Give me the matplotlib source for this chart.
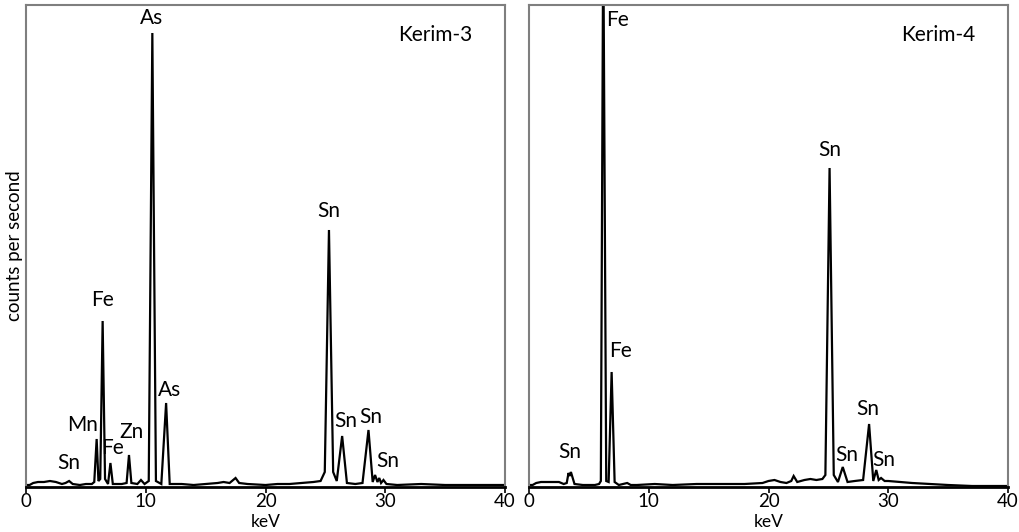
import matplotlib.pyplot as plt

plt.rcParams['font.family'] = ['Lato', 'DejaVu Sans']

# ------------------------------------------------------
# Spectra (keV, counts, arbitrary units)
# ------------------------------------------------------
k3_kev = [0.0, 0.3, 0.6, 1.0, 1.5, 2.0, 2.5, 3.0, 3.3, 3.6, 3.9, 4.5, 5.0,
          5.5, 5.7, 5.9, 6.05, 6.2, 6.4, 6.6, 6.85, 7.05, 7.25, 8.0, 8.4,
          8.6, 8.8, 9.3, 9.6, 9.9, 10.25, 10.55, 10.85, 11.3, 11.7, 12.0,
          13.0, 14.0, 15.0, 16.0, 16.5, 17.0, 17.5, 17.8, 18.5, 20.0, 21.0,
          22.0, 23.0, 24.0, 24.6, 24.95, 25.3, 25.65, 25.95, 26.4, 26.8,
          27.5, 28.1, 28.6, 28.95, 29.15, 29.35, 29.5, 29.65, 29.85, 30.1,
          31.0, 33.0, 35.0, 40.0]
k3_cps = [2, 2, 4, 5, 5, 6, 5, 3, 4, 6, 3, 2, 3,
          3, 5, 48, 6, 8, 166, 8, 3, 24, 3, 3, 4,
          32, 4, 3, 7, 3, 6, 454, 6, 3, 84, 3,
          3, 2, 3, 4, 5, 4, 9, 4, 3, 2, 3,
          3, 4, 5, 6, 15, 257, 15, 6, 51, 4,
          3, 4, 57, 5, 12, 5, 9, 4, 7, 3,
          2, 3, 2, 2]

k4_kev = [0.0, 0.3, 0.6, 1.0, 1.5, 2.0, 2.5, 2.9, 3.15, 3.3, 3.4, 3.5, 3.8,
          4.5, 5.5, 5.85, 6.0, 6.2, 6.45, 6.65, 6.9, 7.15, 7.5, 8.2, 8.5,
          9.0, 10.5, 12.0, 14.0, 16.0, 18.0, 19.5, 20.0, 20.5, 21.0, 21.5,
          21.9, 22.1, 22.4, 23.0, 23.5, 24.0, 24.5, 24.75, 25.1, 25.45,
          25.8, 26.2, 26.6, 27.2, 27.9, 28.4, 28.75, 29.0, 29.2, 29.4,
          29.7, 30.0, 31.0, 32.0, 33.5, 35.0, 37.0, 40.0]
k4_cps = [2, 2, 4, 5, 5, 5, 5, 3, 4, 14, 11, 15, 3,
          2, 2, 3, 6, 560, 6, 5, 115, 5, 2, 4, 2,
          2, 3, 2, 3, 3, 3, 4, 6, 7, 5, 4,
          6, 11, 5, 7, 8, 7, 8, 12, 319, 12,
          5, 20, 5, 6, 7, 63, 6, 17, 7, 9,
          6, 6, 5, 4, 3, 2, 1, 1]

# peak labels: (text, keV, height)
k3_labels = [("As", 10.5, 469), ("Fe", 6.4, 187), ("Mn", 4.75, 62),
             ("Fe", 7.2, 39), ("Zn", 8.85, 55), ("As", 12.0, 97),
             ("Sn", 3.55, 24), ("Sn", 25.3, 276), ("Sn", 26.7, 66),
             ("Sn", 28.8, 70), ("Sn", 30.2, 26)]
k4_labels = [("Fe", 7.35, 467), ("Fe", 7.6, 136), ("Sn", 3.4, 35),
             ("Sn", 25.1, 337), ("Sn", 26.5, 32), ("Sn", 28.3, 78),
             ("Sn", 29.6, 27)]

xticks = [0, 10, 20, 30, 40]

fig = plt.figure(figsize=(10.2, 5.32), dpi=100)
ax1 = fig.add_axes([26 / 1020, 45 / 532, 479 / 1020, 482 / 532])
ax2 = fig.add_axes([529 / 1020, 45 / 532, 479 / 1020, 482 / 532])


def draw_panel(ax, kev, cps, labels, name):
    ax.plot(kev, cps, color="black", lw=1.6, solid_joinstyle="miter")
    ax.set_xlim(0, 40)
    ax.set_ylim(0, 482)
    ax.set_yticks([])
    ax.set_xticks(xticks)
    ax.tick_params(axis="x", direction="out", length=4, width=1.2,
                   labelsize=13.5, pad=0, color="black")
    for side in ["left", "top", "right"]:
        ax.spines[side].set_color("#7f7f7f")
        ax.spines[side].set_linewidth(1.5)
    ax.spines["bottom"].set_color("black")
    ax.spines["bottom"].set_linewidth(2)
    for txt, x, y in labels:
        ax.text(x, y, txt, ha="center", va="center", fontsize=15)
    ax.text(34.2, 452, name, ha="center", va="center", fontsize=15)
    # keV sits just below the tick labels, placed in axes fraction
    ax.text(0.5, -0.072, "keV", transform=ax.transAxes, ha="center",
            va="center", fontsize=12.5)


draw_panel(ax1, k3_kev, k3_cps, k3_labels, "Kerim-3")
draw_panel(ax2, k4_kev, k4_cps, k4_labels, "Kerim-4")
ax1.set_ylabel("counts per second", fontsize=13.5, labelpad=2)

fig.savefig("out.png", dpi=100)
